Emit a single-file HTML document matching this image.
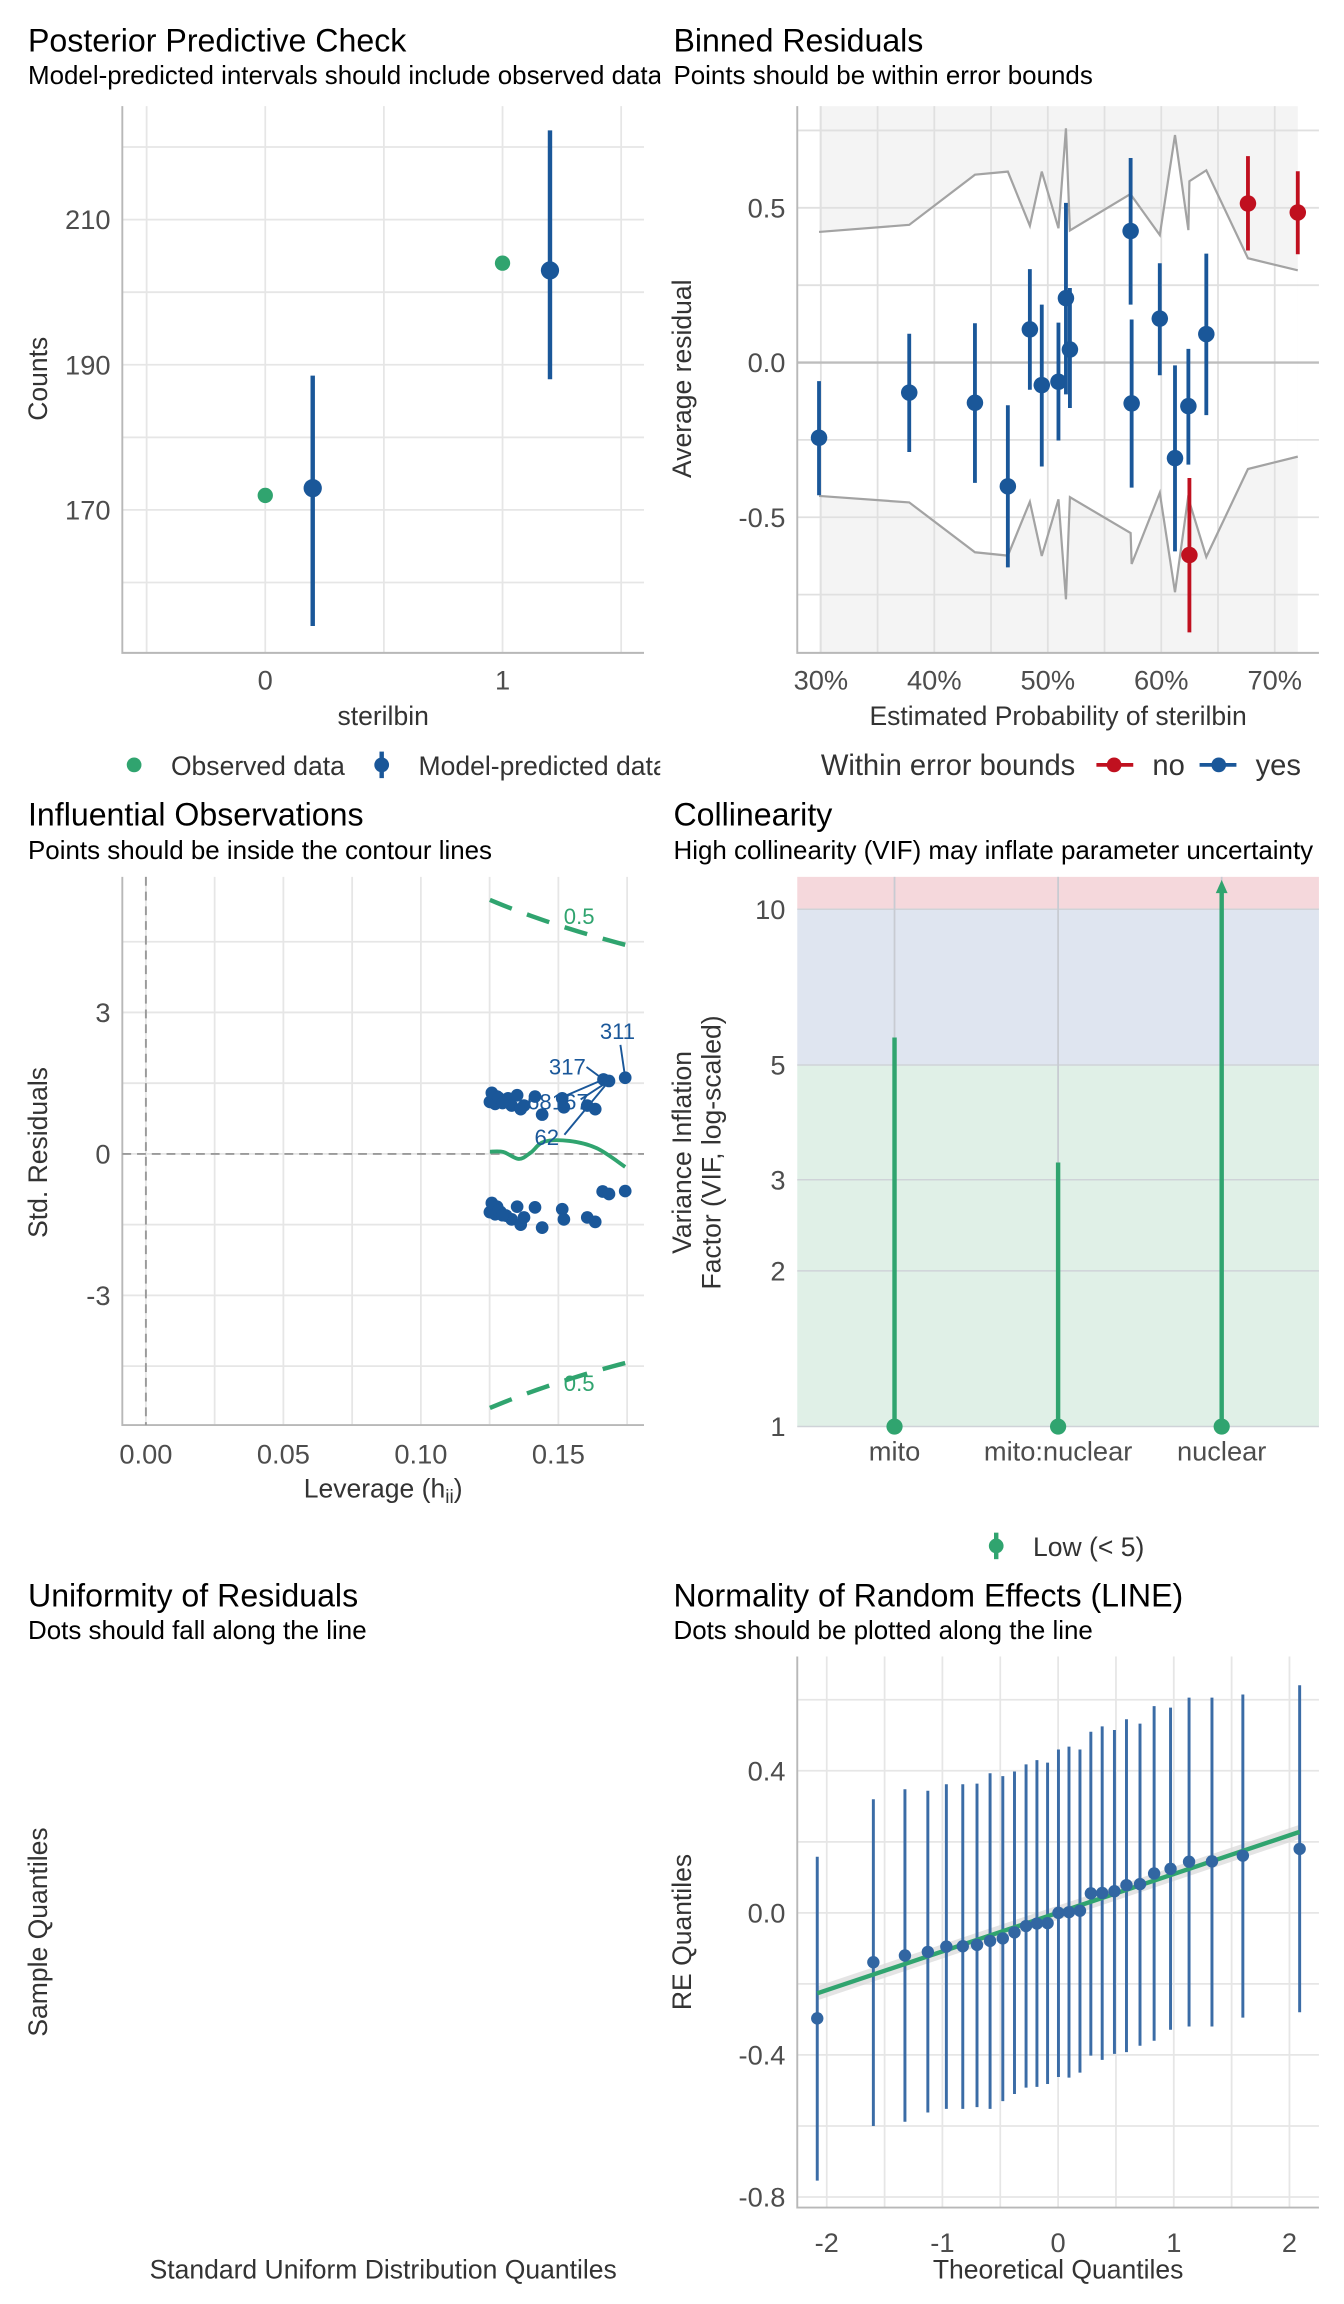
<!DOCTYPE html>
<html><head><meta charset="utf-8"><style>
html,body{margin:0;padding:0;background:#fff;}
svg{display:block;font-family:"Liberation Sans",Arial,sans-serif;}
.t{font-size:21.8px;fill:#000}.st{font-size:17.6px;fill:#000}
.tk{font-size:18.5px;fill:#4d4d4d}.at{font-size:18px;fill:#333}.lg{font-size:18px;fill:#333}.lg2{font-size:19.8px;fill:#333}
</style></head><body>
<svg id="s" width="1344" height="2304" viewBox="0 0 912 1563.4" xmlns="http://www.w3.org/2000/svg">
<defs>
<clipPath id="cl"><rect x="0" y="0" width="448" height="1563"/></clipPath>
<clipPath id="c4"><rect x="541" y="595" width="354" height="373"/></clipPath>
</defs>
<rect x="0" y="0" width="912" height="1564" fill="#fff"/>
<g clip-path="url(#cl)">
<text class="t" x="19" y="35">Posterior Predictive Check</text>
<text class="st" x="19" y="57">Model-predicted intervals should include observed data</text>
<g>
<circle cx="91" cy="519" r="5" fill="#30a46f"/>
<text class="lg" x="116" y="526">Observed data</text>
<line x1="259" y1="510" x2="259" y2="528" stroke="#1a5799" stroke-width="3"/>
<circle cx="259" cy="519" r="5" fill="#1a5799"/>
<text class="lg" x="284" y="526">Model-predicted data</text>
</g>
</g>
<text class="at" x="260" y="492" text-anchor="middle">sterilbin</text>
<text class="at" transform="translate(32,257) rotate(-90)" text-anchor="middle">Counts</text>

<text class="t" x="457" y="35">Binned Residuals</text>
<text class="st" x="457" y="57">Points should be within error bounds</text>
<text class="at" x="718" y="492" text-anchor="middle">Estimated Probability of sterilbin</text>
<text class="at" transform="translate(469,257) rotate(-90)" text-anchor="middle">Average residual</text>
<g>
<text class="lg2" x="557" y="526">Within error bounds</text>
<line x1="744" y1="519" x2="769" y2="519" stroke="#c0101f" stroke-width="2.5"/>
<circle cx="756" cy="519" r="5" fill="#c0101f"/>
<text class="lg2" x="782" y="526">no</text>
<line x1="814" y1="519" x2="839" y2="519" stroke="#1a5799" stroke-width="2.5"/>
<circle cx="827" cy="519" r="5" fill="#1a5799"/>
<text class="lg2" x="852" y="526">yes</text>
</g>

<text class="t" x="19" y="560">Influential Observations</text>
<text class="st" x="19" y="583">Points should be inside the contour lines</text>
<text class="at" x="260" y="1016" text-anchor="middle">Leverage (h<tspan font-size="13" dy="4">ii</tspan><tspan dy="-4">)</tspan></text>
<text class="at" transform="translate(32,782) rotate(-90)" text-anchor="middle">Std. Residuals</text>

<text class="t" x="457" y="560">Collinearity</text>
<text class="st" x="457" y="583">High collinearity (VIF) may inflate parameter uncertainty</text>
<text class="at" transform="translate(469,782) rotate(-90)" text-anchor="middle">Variance Inflation</text>
<text class="at" transform="translate(489,782) rotate(-90)" text-anchor="middle">Factor (VIF, log-scaled)</text>
<g>
<line x1="676" y1="1040" x2="676" y2="1058" stroke="#30a46f" stroke-width="3"/>
<circle cx="676" cy="1049" r="5" fill="#30a46f"/>
<text class="lg" x="701" y="1056">Low (&lt; 5)</text>
</g>

<text class="t" x="19" y="1090">Uniformity of Residuals</text>
<text class="st" x="19" y="1112">Dots should fall along the line</text>
<text class="at" x="260" y="1546" text-anchor="middle">Standard Uniform Distribution Quantiles</text>
<text class="at" transform="translate(32,1311) rotate(-90)" text-anchor="middle">Sample Quantiles</text>

<text class="t" x="457" y="1090">Normality of Random Effects (LINE)</text>
<text class="st" x="457" y="1112">Dots should be plotted along the line</text>
<text class="at" x="718" y="1546" text-anchor="middle">Theoretical Quantiles</text>
<text class="at" transform="translate(469,1311) rotate(-90)" text-anchor="middle">RE Quantiles</text>

<g id="p1"></g>
<g id="p2"></g>
<g id="p3"></g>
<g id="p4"></g>
<g id="p6"></g>
</svg>
<script>
// ---- Panel 1 data
const ppcCats=[0,1];
const ppcObserved=[172,204];
const ppcPred=[173,203];
const ppcLo=[154,188];
const ppcHi=[188.5,222.3];
const ppcYTicks=[170,190,210];
// ---- Panel 2 data
const binPct=[29.84,37.79,43.58,46.48,48.42,49.47,50.94,51.60,51.95,57.30,57.39,59.87,61.21,62.39,62.48,63.97,67.64,72.03];
const binVal=[-0.243,-0.097,-0.130,-0.400,0.107,-0.073,-0.062,0.208,0.042,0.425,-0.132,0.142,-0.309,-0.141,-0.622,0.092,0.514,0.485];
const binLo=[-0.429,-0.289,-0.389,-0.662,-0.088,-0.336,-0.252,-0.103,-0.147,0.187,-0.404,-0.041,-0.610,-0.330,-0.872,-0.170,0.362,0.350];
const binHi=[-0.060,0.093,0.127,-0.138,0.302,0.187,0.129,0.516,0.241,0.661,0.139,0.321,-0.009,0.044,-0.373,0.352,0.667,0.618];
const binUpper=[0.422,0.445,0.607,0.617,0.442,0.617,0.434,0.757,0.427,0.545,0.539,0.412,0.735,0.428,0.586,0.621,0.337,0.298];
const binLower=[-0.431,-0.452,-0.613,-0.624,-0.450,-0.625,-0.442,-0.765,-0.435,-0.551,-0.651,-0.421,-0.742,-0.429,-0.45,-0.628,-0.344,-0.304];
const binXTicks=[30,40,50,60,70];
const binYTicks=[-0.5,0,0.5];
// ---- Panel 3 data
const infLev=[0.1258,0.1264,0.1251,0.1277,0.1290,0.1304,0.1317,0.1330,0.1350,0.1363,0.1375,0.1415,0.1441,0.1514,0.1520,0.1605,0.1634,0.1664,0.1684,0.1743,0.1262,0.1270,0.1283,0.1297,
0.1258,0.1264,0.1251,0.1277,0.1290,0.1310,0.1330,0.1350,0.1363,0.1375,0.1415,0.1441,0.1514,0.1520,0.1605,0.1634,0.1661,0.1684,0.1743,0.1262,0.1270,0.1283,0.1297];
const infRes=[1.294,1.178,1.103,1.216,1.141,1.103,1.178,1.025,1.244,0.950,1.025,1.216,0.834,1.178,0.988,1.025,0.950,1.578,1.547,1.615,1.23,1.06,1.19,1.08,
-1.041,-1.156,-1.234,-1.119,-1.234,-1.309,-1.388,-1.119,-1.500,-1.347,-1.134,-1.563,-1.172,-1.388,-1.347,-1.441,-0.797,-0.850,-0.788,-1.10,-1.28,-1.20,-1.30];
const infLoessLev=[0.1251,0.1300,0.1356,0.1400,0.1448,0.1540,0.1640,0.1743];
const infLoessRes=[0.047,0.04,-0.106,0.03,0.259,0.275,0.12,-0.275];
const infParams=8.3;
const infXTicks=[0,0.05,0.10,0.15];
const infYTicks=[-3,0,3];
// ---- Panel 4 data
const vifTerms=["mito","mito:nuclear","nuclear"];
const vifValues=[5.65,3.24,11.4];
const vifYTicks=[1,2,3,5,10];
// ---- Panel 6 data
const reQ=[-2.082,-1.597,-1.324,-1.126,-0.966,-0.824,-0.701,-0.588,-0.478,-0.377,-0.277,-0.183,-0.091,0.003,0.094,0.189,0.283,0.381,0.487,0.591,0.708,0.830,0.972,1.132,1.330,1.597,2.088];
const reVal=[-0.297,-0.139,-0.120,-0.110,-0.095,-0.094,-0.090,-0.079,-0.072,-0.055,-0.037,-0.030,-0.029,0.000,0.002,0.006,0.055,0.056,0.061,0.078,0.081,0.111,0.124,0.144,0.145,0.161,0.180];
const reHi=[0.158,0.320,0.348,0.344,0.362,0.362,0.364,0.393,0.385,0.398,0.418,0.430,0.423,0.460,0.468,0.460,0.510,0.525,0.515,0.545,0.533,0.582,0.578,0.606,0.606,0.615,0.641];
const reLo=[-0.754,-0.600,-0.588,-0.562,-0.552,-0.552,-0.547,-0.552,-0.530,-0.510,-0.492,-0.490,-0.482,-0.462,-0.464,-0.450,-0.402,-0.414,-0.397,-0.392,-0.374,-0.360,-0.329,-0.320,-0.320,-0.295,-0.280];
const reFit=[0.0005,0.109];
const reXTicks=[-2,-1,0,1,2];
const reYTicks=[-0.8,-0.4,0,0.4];

const NS='http://www.w3.org/2000/svg';
function mk(tag,attrs,parent){const e=document.createElementNS(NS,tag);for(const k in attrs)e.setAttribute(k,attrs[k]);parent.appendChild(e);return e;}
function fmt(v,d){return (v<0?'-':'')+Math.abs(v).toFixed(d);}
const BLUE='#1a5799',RED='#c0101f',GREEN='#30a46f',GRID='#e6e6e6',AX='#b8b8b8';
const YO=6.5, XT=468;

// ===== Panel 1
(function(){
const g=document.getElementById('p1');
const X=v=>180+v*161, Y=v=>346-(v-170)*4.925;
for(const v of [-0.5,0,0.5,1,1.5]){const e=mk('line',{x1:X(v),x2:X(v),y1:72,y2:443,stroke:GRID,'stroke-width':1.2},g);

}
for(let v=160;v<=220;v+=10){const e=mk('line',{x1:83,x2:437,y1:Y(v),y2:Y(v),stroke:GRID,'stroke-width':1.2},g);

}
let a=mk('path',{d:'M83 72V443H437',fill:'none',stroke:AX,'stroke-width':1.3},g);


for(const v of ppcYTicks){const t=mk('text',{x:75,y:Y(v)+YO,'text-anchor':'end',class:'tk'},g);t.textContent=v;

}
for(const c of ppcCats){const t=mk('text',{x:X(c),y:XT,'text-anchor':'middle',class:'tk'},g);t.textContent=c;

}
ppcCats.forEach((c,i)=>{
const o=mk('circle',{cx:X(c),cy:Y(ppcObserved[i]),r:5.2,fill:GREEN},g);


const l=mk('line',{x1:X(c+0.2),x2:X(c+0.2),y1:Y(ppcLo[i]),y2:Y(ppcHi[i]),stroke:BLUE,'stroke-width':3},g);


const p=mk('circle',{cx:X(c+0.2),cy:Y(ppcPred[i]),r:6.2,fill:BLUE},g);


});
})();

// ===== Panel 2
(function(){
const g=document.getElementById('p2');
const X=p=>557+(p-30)*7.7, Y=v=>246-v*210;
const bg=mk('rect',{x:X(binPct[0]),y:72,width:X(binPct[binPct.length-1])-X(binPct[0]),height:371,fill:'#f4f4f4'},g);


let up=binPct.map((p,i)=>X(p)+','+Y(binUpper[i]));
let lo=binPct.map((p,i)=>X(p)+','+Y(binLower[i])).reverse();
const wb=mk('polygon',{points:up.concat(lo).join(' '),fill:'#fff'},g);


for(let p=30;p<=70;p+=5){const e=mk('line',{x1:X(p),x2:X(p),y1:72,y2:443,stroke:'#e0e0e0','stroke-width':1.2},g);

}
for(let v=-0.75;v<=0.76;v+=0.25){const e=mk('line',{x1:541,x2:895,y1:Y(v),y2:Y(v),stroke:Math.abs(v)<0.01?'#bdbdbd':'#e0e0e0','stroke-width':Math.abs(v)<0.01?1.6:1.2},g);

}
let a=mk('path',{d:'M541 72V443H895',fill:'none',stroke:AX,'stroke-width':1.3},g);


const ub=mk('polyline',{points:up.join(' '),fill:'none',stroke:'#a3a3a3','stroke-width':1.5},g);


const lb=mk('polyline',{points:lo.join(' '),fill:'none',stroke:'#a3a3a3','stroke-width':1.5},g);


for(const v of binYTicks){const t=mk('text',{x:533,y:Y(v)+YO,'text-anchor':'end',class:'tk'},g);t.textContent=fmt(v,1);

}
for(const p of binXTicks){const t=mk('text',{x:X(p),y:XT,'text-anchor':'middle',class:'tk'},g);t.textContent=p+'%';

}
binPct.forEach((p,i)=>{
const inside=binVal[i]<=binUpper[i]&&binVal[i]>=binLower[i];
const c=inside?BLUE:RED;
const l=mk('line',{x1:X(p),x2:X(p),y1:Y(binLo[i]),y2:Y(binHi[i]),stroke:c,'stroke-width':2.6},g);


const d=mk('circle',{cx:X(p),cy:Y(binVal[i]),r:5.6,fill:c},g);


});
})();

// ===== Panel 3
(function(){
const g=document.getElementById('p3');
const X=h=>99+h*1866, Y=r=>783-r*32;
for(let h=0;h<=0.176;h+=0.025){const e=mk('line',{x1:X(h),x2:X(h),y1:595,y2:967,stroke:GRID,'stroke-width':1.2},g);

}
for(let r=-4.5;r<=4.6;r+=1.5){const e=mk('line',{x1:83,x2:437,y1:Y(r),y2:Y(r),stroke:GRID,'stroke-width':1.2},g);

}
let a=mk('path',{d:'M83 595V967H437',fill:'none',stroke:AX,'stroke-width':1.3},g);


let d1=mk('line',{x1:X(0),x2:X(0),y1:595,y2:967,stroke:'#9a9a9a','stroke-width':1.3,'stroke-dasharray':'6 4'},g);


let d2=mk('line',{x1:83,x2:437,y1:Y(0),y2:Y(0),stroke:'#9a9a9a','stroke-width':1.3,'stroke-dasharray':'6 4'},g);


for(const v of infYTicks){const t=mk('text',{x:75,y:Y(v)+YO,'text-anchor':'end',class:'tk'},g);t.textContent=v;

}
for(const v of infXTicks){const t=mk('text',{x:X(v),y:993,'text-anchor':'middle',class:'tk'},g);t.textContent=v.toFixed(2);

}
const h0=infLoessLev[0],h1=infLoessLev[infLoessLev.length-1];
for(const s of [1,-1]){let pts=[];for(let k=0;k<=20;k++){const h=h0+(h1-h0)*k/20;pts.push(X(h)+','+Y(s*Math.sqrt(0.5*infParams*(1-h)/h)));}
const c=mk('polyline',{points:pts.join(' '),fill:'none',stroke:GREEN,'stroke-width':3,'stroke-dasharray':'16 11'},g);


const t=mk('text',{x:393,y:s>0?627:944,'text-anchor':'middle',style:'font-size:15px;fill:'+GREEN},g);t.textContent='0.5';

}
const P=infLoessLev.map((h,i)=>[X(h),Y(infLoessRes[i])]);
let d='M'+P[0][0]+' '+P[0][1];
for(let i=0;i<P.length-1;i++){const p0=P[Math.max(0,i-1)],p1=P[i],p2=P[i+1],p3=P[Math.min(P.length-1,i+2)];
d+=' C'+(p1[0]+(p2[0]-p0[0])/6)+' '+(p1[1]+(p2[1]-p0[1])/6)+' '+(p2[0]-(p3[0]-p1[0])/6)+' '+(p2[1]-(p3[1]-p1[1])/6)+' '+p2[0]+' '+p2[1];}
const lo=mk('path',{d:d,fill:'none',stroke:GREEN,'stroke-width':2.6},g);


infLev.forEach((h,i)=>{const c=mk('circle',{cx:X(h),cy:Y(infRes[i]),r:4.3,fill:BLUE},g);

});
const labs=[['311',419,705,421,709,X(0.1743),Y(1.615)],['317',385,729,398,724,X(0.1664),Y(1.578)],['68',366,753,378,746,X(0.1664),Y(1.578)],['167',387,753,394,746,X(0.1684),Y(1.547)],['62',371,777,383,770,X(0.1684),Y(1.547)]];
for(const L of labs){const ln=mk('line',{x1:L[3],y1:L[4],x2:L[5],y2:L[6],stroke:BLUE,'stroke-width':1.3},g);


const t=mk('text',{x:L[1],y:L[2],'text-anchor':'middle',style:'font-size:15px;fill:'+BLUE},g);t.textContent=L[0];

}
})();

// ===== Panel 4
(function(){
const g=document.getElementById('p4');
const X=i=>607+i*111, Y=v=>968-Math.log10(v)*351;
const bands=[[10,100,'#f5d8dc'],[5,10,'#dfe5f0'],[1,5,'#e0f0e7']];
for(const b of bands){const r=mk('rect',{x:541,width:354,y:Math.max(595,Y(b[1])),height:Y(b[0])-Math.max(595,Y(b[1])),fill:b[2]},g);

}
for(const v of vifYTicks){const e=mk('line',{x1:541,x2:895,y1:Y(v),y2:Y(v),stroke:'#cfd3d8','stroke-width':1},g);


const t=mk('text',{x:533,y:Y(v)+YO,'text-anchor':'end',class:'tk'},g);t.textContent=v;

}
vifTerms.forEach((n,i)=>{
const e=mk('line',{x1:X(i),x2:X(i),y1:595,y2:968,stroke:'#c8cbd2','stroke-width':1.2},g);


const t=mk('text',{x:X(i),y:991,'text-anchor':'middle',class:'tk'},g);t.textContent=n;

});
const cg=mk('g',{'clip-path':'url(#c4)'},g);


vifTerms.forEach((n,i)=>{
const top=Math.max(597,Y(vifValues[i]));
const l=mk('line',{x1:X(i),x2:X(i),y1:Y(1),y2:top+(vifValues[i]>10?6:0),stroke:GREEN,'stroke-width':3},cg);


if(vifValues[i]>10){const ar=mk('polygon',{points:(X(i)-4)+','+(top+9)+' '+(X(i)+4)+','+(top+9)+' '+X(i)+','+top,fill:GREEN},cg);

}
const p=mk('circle',{cx:X(i),cy:Y(1),r:5.5,fill:GREEN},g);

});
})();

// ===== Panel 6
(function(){
const g=document.getElementById('p6');
const X=q=>718+q*78.5, Y=v=>1298-v*241;
for(let q=-2;q<=2.01;q+=0.5){const e=mk('line',{x1:X(q),x2:X(q),y1:1124,y2:1498,stroke:GRID,'stroke-width':1.2},g);

}
for(let v=-0.8;v<=0.61;v+=0.2){const e=mk('line',{x1:541,x2:895,y1:Y(v),y2:Y(v),stroke:GRID,'stroke-width':1.2},g);

}
let a=mk('path',{d:'M541 1124V1498H895',fill:'none',stroke:AX,'stroke-width':1.3},g);


for(const v of reYTicks){const t=mk('text',{x:533,y:Y(v)+YO,'text-anchor':'end',class:'tk'},g);t.textContent=fmt(v,1);

}
for(const q of reXTicks){const t=mk('text',{x:X(q),y:1528,'text-anchor':'middle',class:'tk'},g);t.textContent=q;

}
const q0=reQ[0],q1=reQ[reQ.length-1];
const f=q=>reFit[0]+reFit[1]*q;
const band=mk('polygon',{points:[X(q0)+','+Y(f(q0)+0.02),X(q1)+','+Y(f(q1)+0.02),X(q1)+','+Y(f(q1)-0.02),X(q0)+','+Y(f(q0)-0.02)].join(' '),fill:'#d9d9d9',opacity:0.7},g);


reQ.forEach((q,i)=>{const l=mk('line',{x1:X(q),x2:X(q),y1:Y(reLo[i]),y2:Y(reHi[i]),stroke:'#3b6ca6','stroke-width':2},g);

});
const fl=mk('line',{x1:X(q0),y1:Y(f(q0)),x2:X(q1),y2:Y(f(q1)),stroke:GREEN,'stroke-width':3},g);


reQ.forEach((q,i)=>{const c=mk('circle',{cx:X(q),cy:Y(reVal[i]),r:4.2,fill:'#3266a2'},g);

});
})();
</script>
</body></html>
